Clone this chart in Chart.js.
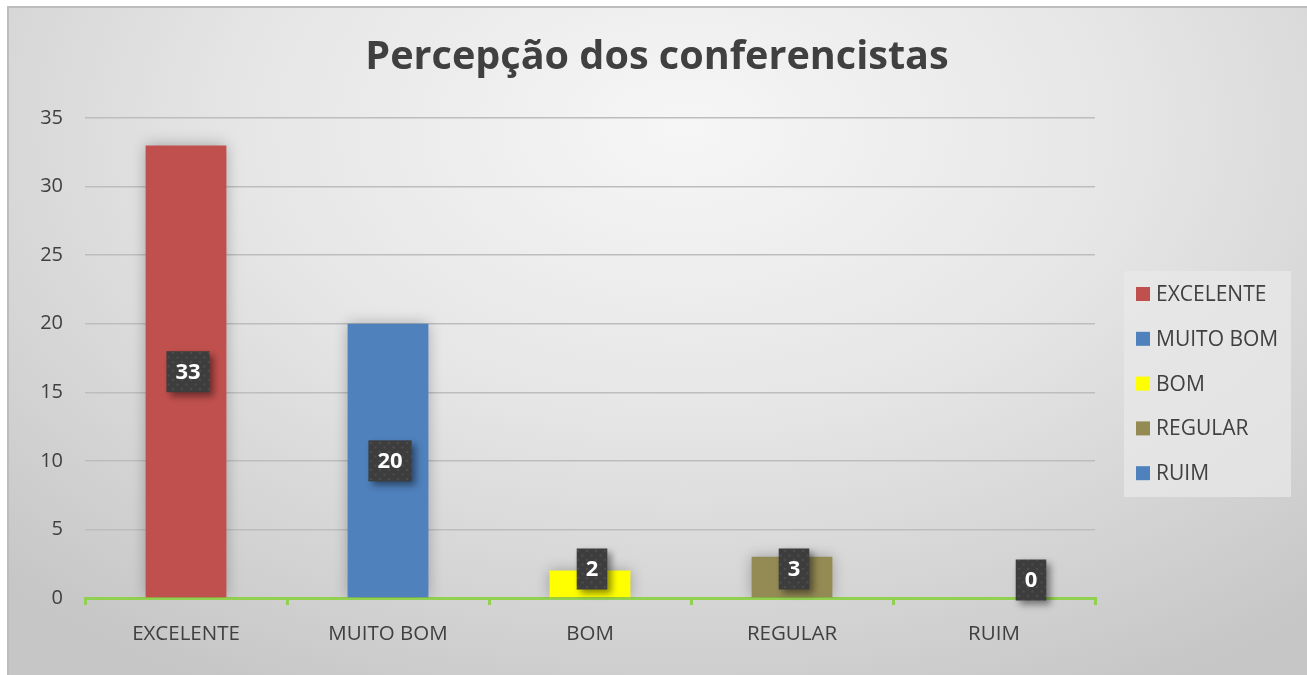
<!DOCTYPE html>
<html>
<head>
<meta charset="utf-8">
<script src="https://cdn.jsdelivr.net/npm/chart.js@4.4.0/dist/chart.umd.min.js"></script>
<style>
  html, body { margin: 0; padding: 0; width: 1307px; height: 675px; overflow: hidden; background: #fff; }
  #frame {
    position: absolute; left: 7px; top: 6px; width: 1298px; height: 667px;
    border-top: 2px solid #bdbdbd; border-left: 2px solid #bdbdbd;
    background: radial-gradient(ellipse 75% 95% at 52% 18%, #f6f6f6 0%, #e6e6e6 45%, #cfcfcf 85%, #c6c6c6 100%);
  }
  #wrap { position: absolute; left: 0; top: 0; width: 1307px; height: 675px; }
</style>
</head>
<body>
<div id="frame"></div>
<div id="wrap"><canvas id="myChart" width="1307" height="675"></canvas></div>
<script>
const categories = ['EXCELENTE', 'MUITO BOM', 'BOM', 'REGULAR', 'RUIM'];
const values = [33, 20, 2, 3, 0];
const barColors = ['#C0504D', '#4F81BD', '#FFFF00', '#948A54', '#4F81BD'];
const yTicks = [0, 5, 10, 15, 20, 25, 30, 35];
const chartTitle = 'Percepção dos conferencistas';

const FONT = "'Open Sans', 'DejaVu Sans', sans-serif";

// dotted dark fill for the value boxes
function makePattern(ctx) {
    const c = document.createElement('canvas');
    c.width = 9; c.height = 9;
    const p = c.getContext('2d');
    p.fillStyle = '#3d3d3d';
    p.fillRect(0, 0, 9, 9);
    p.fillStyle = '#4b4b4b';
    p.beginPath(); p.arc(2, 2, 1.3, 0, Math.PI * 2); p.fill();
    p.beginPath(); p.arc(6.5, 6.5, 1.3, 0, Math.PI * 2); p.fill();
    return ctx.createPattern(c, 'repeat');
}

const barShadow = {
    id: 'barShadow',
    beforeDatasetsDraw(chart) {
        const ctx = chart.ctx;
        ctx.save();
        ctx.shadowColor = 'rgba(0,0,0,0.28)';
        ctx.shadowBlur = 14;
    },
    afterDatasetsDraw(chart) {
        chart.ctx.restore();
    }
};

const valueBoxes = {
    id: 'valueBoxes',
    afterDatasetsDraw(chart) {
        const ctx = chart.ctx;
        const meta = chart.getDatasetMeta(0);
        const zeroY = chart.scales.y.getPixelForValue(0);
        const pattern = makePattern(ctx);
        ctx.save();
        ctx.font = 'bold 22px ' + FONT;
        meta.data.forEach((bar, i) => {
            const txt = String(values[i]);
            const w = ctx.measureText(txt).width + 18;
            const h = 41;
            let cy = (bar.y + zeroY) / 2;
            let cx = bar.x + 2;
            if (values[i] === 0) { cy = zeroY - 18; cx = bar.x + 37; } // empty bar: label sits to the right
            else cy = Math.min(cy, zeroY - 29);
            const x = cx - w / 2, y = cy - h / 2;
            ctx.save();
            ctx.shadowColor = 'rgba(0,0,0,0.45)';
            ctx.shadowBlur = 7;
            ctx.shadowOffsetX = 4;
            ctx.shadowOffsetY = 4;
            ctx.fillStyle = pattern;
            ctx.fillRect(x, y, w, h);
            ctx.restore();
            ctx.fillStyle = '#ffffff';
            ctx.textAlign = 'center';
            ctx.textBaseline = 'middle';
            ctx.fillText(txt, cx, cy + 1);
        });
        ctx.restore();
    }
};

// title centred on the whole frame, legend in a light box on the right
const titleAndLegend = {
    id: 'titleAndLegend',
    afterDraw(chart) {
        const ctx = chart.ctx;
        ctx.save();
        ctx.fillStyle = '#404040';
        ctx.font = 'bold 39.6px ' + FONT;
        ctx.textAlign = 'center';
        ctx.textBaseline = 'middle';
        ctx.fillText(chartTitle, 657, 58);

        ctx.fillStyle = 'rgba(232,232,232,0.75)';
        ctx.fillRect(1124, 271, 167, 226);
        ctx.font = '21px ' + FONT;
        ctx.textAlign = 'left';
        categories.forEach((c, i) => {
            const cy = 294 + i * 44.8;
            ctx.fillStyle = barColors[i];
            ctx.fillRect(1136, cy - 7, 14, 14);
            ctx.fillStyle = '#404040';
            ctx.fillText(c, 1156, cy + 1);
        });
        ctx.restore();
    }
};

const ctx = document.getElementById('myChart').getContext('2d');
let myChart = new Chart(ctx, {
    type: 'bar',
    data: {
        labels: categories,
        datasets: [{
            label: 'Percepção',
            data: values,
            backgroundColor: barColors,
            borderWidth: 0,
            categoryPercentage: 1,
            barPercentage: 0.4
        }]
    },
    options: {
        responsive: false,
        animation: false,
        layout: { padding: { left: 0, right: 212, top: 118, bottom: 7 } },
        plugins: {
            legend: { display: false },
            tooltip: { enabled: false },
            title: { display: false }
        },
        scales: {
            x: {
                afterFit: (s) => { s.height = 70; },
                grid: { display: true, drawOnChartArea: false, drawTicks: true, tickLength: 7, color: '#92D050', lineWidth: 3 },
                border: { display: true, color: '#92D050', width: 3 },
                ticks: { color: '#404040', font: { family: FONT, size: 20.5 }, padding: 17 }
            },
            y: {
                min: 0,
                max: 35,
                afterFit: (s) => { s.width = 85; },
                afterBuildTicks: (s) => { s.ticks = yTicks.map(v => ({ value: v })); },
                border: { display: false },
                grid: { color: '#bdbdbd', lineWidth: 1.5, drawTicks: false },
                ticks: { color: '#404040', font: { family: FONT, size: 20 }, padding: 22 }
            }
        }
    },
    plugins: [barShadow, valueBoxes, titleAndLegend]
});
</script>
</body>
</html>
